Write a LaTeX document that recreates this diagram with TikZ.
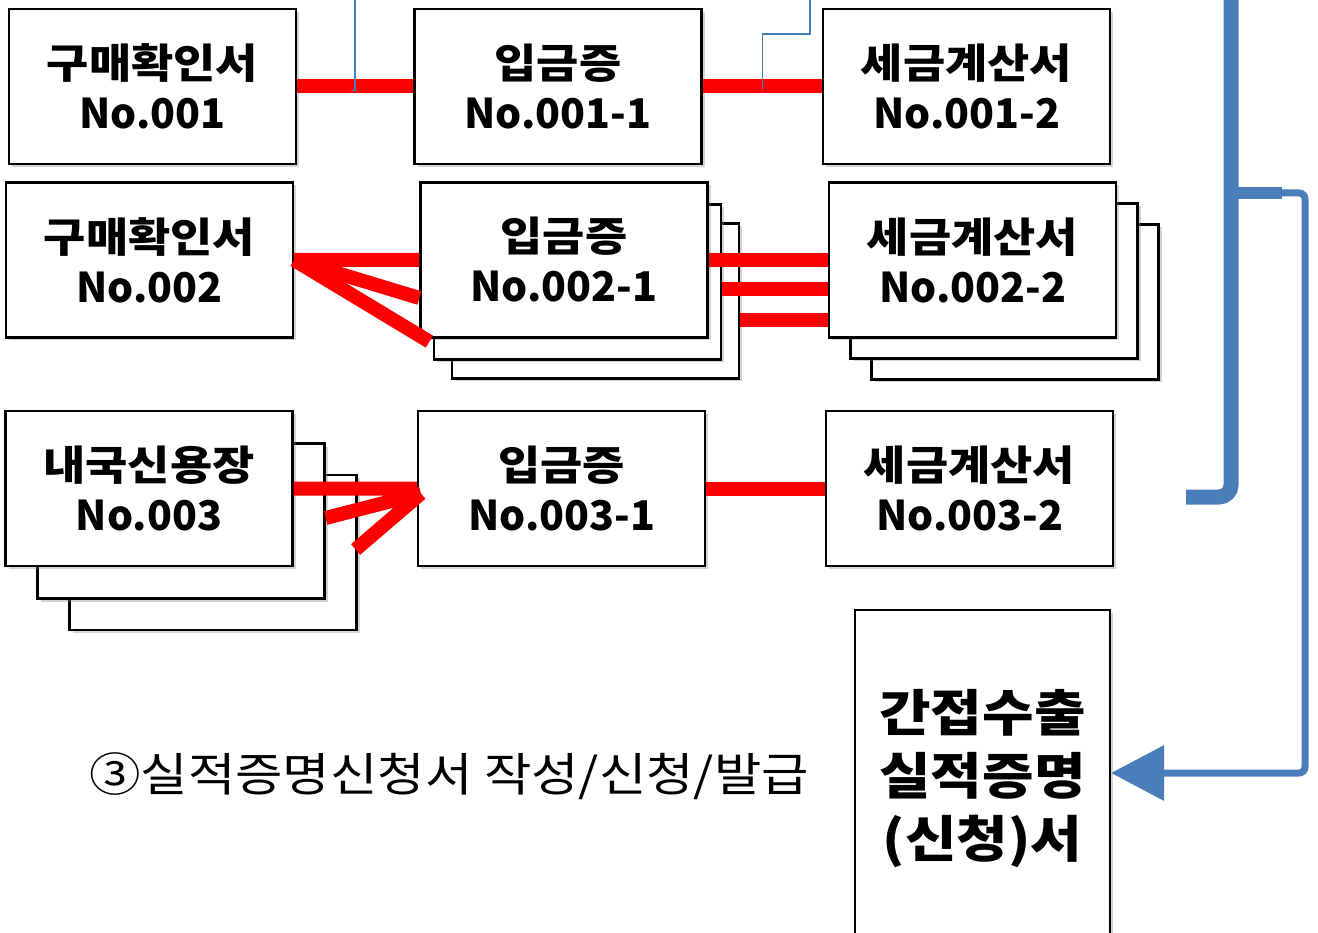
\documentclass[tikz,border=0pt]{standalone}
\usepackage{fontspec}
\setmainfont{Noto Sans CJK KR}
\newfontfamily\krwide{Noto Sans CJK KR}[FakeStretch=1.12]
\usepackage{tikz}
\usetikzlibrary{arrows.meta,positioning,shadows,calc}
\definecolor{blueline}{RGB}{74,126,187}

\begin{document}
\begin{tikzpicture}[x=1pt,y=-1pt,
    doc/.style={draw,line width=2.2pt,fill=white,minimum width=287pt,minimum height=155pt,inner sep=0pt,align=center,
        font=\fontsize{41}{50}\selectfont\bfseries,drop shadow={shadow xshift=3pt,shadow yshift=-3pt,opacity=.35}},
    link/.style={draw=red,line width=14pt},
    wire/.style={draw=blueline,line width=1.3pt},
    flow/.style={draw=blueline,line width=7pt,rounded corners=6pt}]
            \useasboundingbox (0,0) rectangle (1318,933);

            % first row
            \node [doc] (a1) at (152.5,86.5) {{\krwide 구매확인서}\\No.001};
            \node [doc] (b1) at (558,86.5)   {{\krwide 입금증}\\No.001-1};
            \node [doc] (c1) at (966.5,86.5) {{\krwide 세금계산서}\\No.001-2};

            % second row, with stacked sheets
            \node [doc] (a2)  at (149.5,260) {{\krwide 구매확인서}\\No.002};
            \node [doc] (b2c) at (595.5,301) {};
            \node [doc] (b2b) at (577.5,282) {};
            \node [doc] (b2)  at (564,260)   {{\krwide 입금증}\\No.002-1};
            \node [doc] (c2c) at (1015,302)  {};
            \node [doc] (c2b) at (994,281)   {};
            \node [doc] (c2)  at (972.5,260) {{\krwide 세금계산서}\\No.002-2};

            % third row
            \node [doc] (a3c) at (213,552.5) {};
            \node [doc] (a3b) at (181,521)   {};
            \node [doc] (a3)  at (149,488.5) {{\krwide 내국신용장}\\No.003};
            \node [doc] (b3)  at (561.5,488.5) {{\krwide 입금증}\\No.003-1};
            \node [doc] (c3)  at (969.5,488.5) {{\krwide 세금계산서}\\No.003-2};

            % result
            \node [doc,minimum width=255pt,minimum height=338pt,font=\fontsize{50}{63}\selectfont\bfseries\krwide] (d) at (982.5,779) {간접수출\\실적증명\\(신청)서};
            \node [font=\fontsize{46}{50}\selectfont\krwide] (step3) at (449,776) {③실적증명신청서 작성/신청/발급};

            % red links
            \path [link] (a1) -- (b1)
                         (b1) -- (c1);
            \path [link] (a2.east) -- (b2.west)
                         (a2.east) -- ($(b2.west)+(0,38)$)
                         (a2.east) -- ($(b2.south west)+(10,3)$);
            \path [link] (b2.east) -- (c2.west)
                         ($(b2b.east)+(0,7)$) -- ($(c2.west)+(0,29)$)
                         ($(b2c.east)+(0,19)$) -- ($(c2.west)+(0,60)$);
            \path [link] (a3) -- (b3)
                         ($(a3b.east)+(0,-3)$) -- ($(b3.west)+(4,5)$)
                         ($(a3c.east)+(-2,-3)$) -- ($(b3.west)+(4,5)$);
            \path [link] (b3) -- (c3);

            % thin wires from above
            \coordinate (w1) at (355,-5);
            \coordinate (w2) at (810,-5);
            \draw [wire] (w1) -- ($(w1 |- a1)+(0,4)$) -- ++(-4,0);
            \draw [wire] (w2) -- ++(0,39) -| ($($(b1.east)!.5!(c1.west)$)+(0,4)$);

            % brace and return arrow
            \coordinate (top) at (1231,-5);
            \coordinate (tip) at (1231,193);
            \coordinate (foot) at (1186,497);
            \draw [blueline,line width=15pt,rounded corners=12pt] (top) -- (top |- foot) -- (foot);
            \draw [blueline,line width=12pt] (tip) -- ++(51,0) coordinate (arm);
            \draw [flow,-{Triangle[length=53pt,width=54pt]}] (arm) -- ++(23,0) |- ($(d.east)+(0,-6)$);
        \end{tikzpicture}
\end{document}
